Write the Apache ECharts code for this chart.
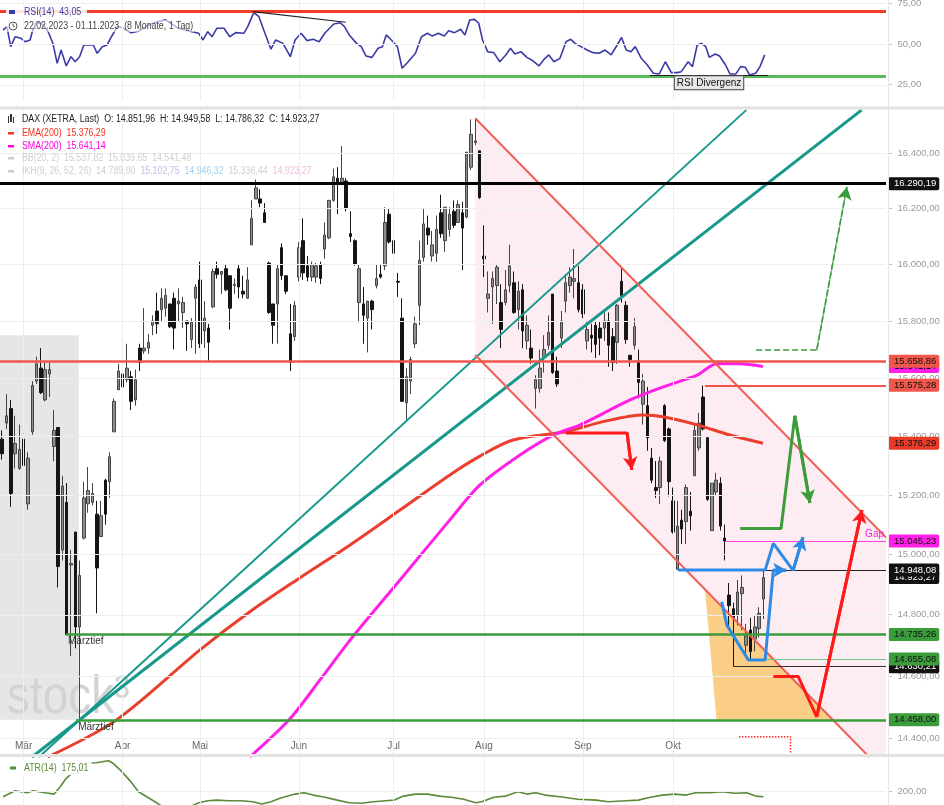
<!DOCTYPE html>
<html><head><meta charset="utf-8">
<script src="https://cdn.jsdelivr.net/npm/echarts@6/dist/echarts.min.js"></script>
<style>html,body{margin:0;padding:0;background:#fff}#c{width:944px;height:805px}</style>
</head><body><div id="c"></div><script>
const FONT = '"Liberation Sans", Arial, sans-serif';

// ---- data ----
const startDate = '2023-02-22';
const holidays = ['2023-04-07', '2023-04-10'];
const monthNames = ['Jan','Feb','Mär','Apr','Mai','Jun','Jul','Aug','Sep','Okt','Nov','Dez'];
const slotCount = 206;          // trading days incl. empty future space
// [open, close, low, high]
const ohlc = [
[15390,15340,15320,15420],[15445,15470,15425,15545],[15495,15205,15160,15525],[15340,15375,15290,15470],[15290,15355,15285,15440],
[15390,15300,15255,15470],[15170,15325,15150,15345],[15415,15575,15405,15590],[15590,15650,15580,15675],[15635,15550,15545,15705],
[15525,15630,15520,15660],[15615,15630,15535,15660],[15365,15420,15315,15490],[15430,14960,14890,15430],[15015,15230,14980,15265],
[15175,14735,14735,15240],[14965,14970,14665,15015],[15075,14760,14690,15075],[14760,14930,14458,14980],[15055,15190,15050,15245],
[15170,15215,15140,15295],[15175,15205,15165,15240],[15135,14955,14805,15180],[15060,15130,15060,15180],[15250,15135,15100,15255],
[15245,15330,15190,15345],[15415,15520,15415,15530],[15560,15625,15560,15650],[15615,15570,15545,15645],[15595,15635,15585,15720],
[15605,15520,15490,15625],[15525,15595,15505,15630],[15705,15655,15625,15720],[15695,15705,15685,15845],[15705,15725,15685,15755],
[15785,15800,15750,15820],[15835,15790,15755,15900],[15840,15880,15800,15915],[15845,15890,15815,15915],[15860,15780,15775,15860],
[15880,15775,15700,15900],[15860,15870,15800,15915],[15830,15865,15775,15885],[15800,15790,15695,15800],[15735,15795,15705,15810],
[15880,15920,15685,15930],[15945,15720,15705,16010],[15765,15810,15705,15870],[15775,15725,15660,15790],[15850,15975,15845,15985],
[15985,15965,15950,16010],[15965,15975,15895,15975],[15985,15910,15905,16000],[15960,15845,15770,15960],[15925,15930,15895,15950],
[15985,15920,15880,16000],[15905,15895,15880,15960],[15880,15945,15880,15990],[16070,16165,16070,16230],[16235,16275,16235,16305],
[16235,16220,16205,16270],[16185,16150,16150,16220],[16005,15830,15825,16010],[15860,15785,15720,15860],[15860,15985,15720,16000],
[16060,15960,15945,16075],[15960,15905,15895,15960],[15755,15655,15625,15860],[15745,15855,15730,15870],[15955,16060,15940,16080],
[16085,15970,15945,16165],[15995,15955,15940,16030],[15955,16000,15940,16010],[15955,15995,15935,16005],[16000,15950,15930,16010],
[16055,16105,16020,16150],[16095,16230,16090,16230],[16230,16315,16225,16345],[16310,16290,16180,16350],[16295,16310,16285,16427],
[16300,16200,16190,16310],[16110,16100,16080,16190],[16085,16000,15995,16090],[15865,15985,15795,16000],[15860,15820,15720,15920],
[15810,15870,15690,15870],[15870,15840,15770,15875],[15925,15950,15915,16000],[15965,15955,15950,16000],[15995,16150,15980,16205],
[16180,16080,16075,16200],[16085,16040,16025,16120],[15940,15937,15885,15970],[15810,15520,15520,15880],[15515,15605,15457,15635],
[15590,15665,15545,15675],[15720,15790,15705,15815],[15855,16015,15785,16085],[16025,16145,16010,16200],[16130,16105,16070,16175],
[16030,16070,16010,16120],[16040,16125,16010,16175],[16185,16110,16095,16250],[16085,16205,16045,16205],[16125,16180,16100,16205],
[16190,16140,16130,16230],[16150,16215,16150,16230],[16185,16130,15980,16225],[16170,16405,16165,16405],[16350,16470,16340,16525],
[16440,16446,16430,16528],[16410,16240,16235,16410],[16030,16020,15955,16140],[15880,15895,15830,15975],[15920,15950,15790,15975],
[15925,15990,15860,16000],[15865,15770,15705,15930],[15865,15910,15855,15980],[15925,15995,15900,16070],[15935,15830,15825,15975],
[15840,15905,15770,15940],[15910,15765,15705,15930],[15730,15785,15700,15820],[15705,15670,15650,15770],[15565,15595,15495,15610],
[15565,15635,15550,15700],[15675,15700,15620,15750],[15715,15760,15700,15820],[15895,15620,15615,15895],[15625,15580,15570,15675],
[15740,15800,15705,15835],[15870,15935,15830,15965],[15925,15955,15900,15990],[15940,15950,15880,16055],[15935,15840,15830,15995],
[15910,15825,15810,15930],[15730,15770,15700,15800],[15750,15740,15690,15790],[15785,15718,15670,15800],[15775,15740,15680,15800],
[15775,15800,15730,15830],[15800,15715,15640,15830],[15745,15655,15625,15775],[15725,15855,15650,15860],[15940,15890,15865,15990],
[15855,15735,15720,15870],[15680,15665,15640,15680],[15715,15780,15700,15810],[15660,15585,15530,15700],[15510,15590,15440,15615],
[15505,15395,15350,15570],[15325,15250,15240,15360],[15225,15215,15190,15315],[15225,15315,15170,15330],[15505,15385,15380,15510],
[15425,15245,15195,15430],[15180,15075,15070,15225],[14950,15095,14948,15180],[15115,15085,15035,15150],[15110,15225,15035,15235],
[15145,15130,15080,15210],[15265,15420,15265,15440],[15360,15445,15350,15480],[15535,15425,15420,15575],[15395,15185,15180,15400],
[15080,15240,15080,15240],[15210,15250,15200,15275],[15240,15095,15080,15260],[15055,15045,14980,15100],[14865,14830,14760,14905],
[14820,14790,14630,14840],[14800,14875,14765,14915],[14870,14890,14750,14930],[14700,14730,14670,14770],[14750,14680,14655,14790],
[14720,14760,14680,14797],[14755,14805,14725,14825],[14852,14923,14786,14950]
];
// [day index, value]
const emaPts = [[10.6,14339],[26.6,14458],[46,14685],[57.6,14810],[69.2,14922],[80.9,15032],[92.5,15149],[104.1,15268],[111.1,15332],[118.8,15387],[131.3,15416],[139.7,15450],[149,15473],[153.7,15467],[161.6,15439],[169.2,15404],[176.9,15376]];
const smaPts = [[57.6,14339],[66.7,14458],[73.9,14587],[80.9,14717],[92.5,14915],[104.1,15116],[111.1,15234],[120.4,15336],[128.1,15404],[134.4,15439],[146,15525],[153.7,15570],[161.6,15611],[166.2,15650],[171.5,15650],[176.9,15641]];
const rsiPts = [[0.2,58.7],[1.1,60.8],[2,48.5],[3,54.6],[4.4,53.6],[5.3,51.5],[6.5,52.6],[7,57.7],[8,63.8],[9.5,62],[10.7,57.7],[11.8,50.5],[12.8,38.2],[13.7,46.4],[14.9,36.6],[16,42.3],[17,39.2],[18,42.3],[19,49.5],[21.2,49.5],[22.1,44.4],[23.3,48.5],[24.4,49.5],[25.4,54.6],[26.8,60.8],[28.2,60],[30,57],[31.7,58],[33.5,61],[35.2,63],[38,65],[40.8,60],[43.6,58],[45.7,56.7],[46.7,52.6],[47.8,57.7],[48.8,54.6],[49.9,59.8],[51.6,59.8],[52.9,54.6],[54.3,57.1],[56.2,56.7],[57.1,60.8],[58.5,69.4],[59.7,66.9],[61.1,56.7],[62.5,46.9],[63.6,52.6],[65.3,50.5],[67,42.3],[68.1,52.6],[69.5,56.7],[70.9,52.2],[72.3,53],[73.7,51.5],[75,56.7],[77.1,62.4],[78.6,63.2],[79.6,60.8],[80.7,55.7],[82.4,50.5],[83.5,48.5],[84.6,42.7],[86,41.9],[87.4,47.5],[88.4,48.5],[89.3,55.7],[90.5,52.6],[91.9,48.5],[93,35.2],[94.4,39.2],[96.1,44.4],[97.5,54.6],[98.9,56.7],[100,55],[101.4,56.7],[102.8,55],[103.8,58.3],[105.2,57.1],[106.6,59.2],[107.6,55.7],[108.7,64.9],[109.8,65.3],[110.8,62.9],[111.7,52.6],[112.9,45.4],[114.3,44.8],[115.7,39.2],[117.1,43.4],[118.2,47.5],[119.2,44],[120.6,45.4],[122,41.9],[123.4,39.8],[124.8,36.6],[126.2,41.3],[127.1,43.4],[128.3,39.2],[129.7,41.3],[131.1,51.5],[132.2,53],[133.2,50.5],[134.6,48.5],[136,46.4],[137.4,44.8],[138.8,44.4],[140.2,46.4],[141.6,43.4],[143,49.5],[144,54.2],[145.1,46.4],[146.2,45.4],[147.2,48.5],[148.6,41.3],[150,37.2],[151.4,32.1],[152.8,31.7],[154.2,39.2],[155.6,32.5],[157,32.5],[157.9,33.1],[159.5,39.2],[160.5,36.2],[161.6,49.5],[162.6,50.5],[163.6,48.5],[164.4,41.9],[165.8,44],[166.8,42.7],[168.2,37.2],[169.2,31.7],[170.6,31.7],[171.7,36.2],[172.8,35.8],[173.8,31],[175.2,32.1],[176.2,36.2],[177.3,43.4]];
const atrPts = [[0.2,175],[3,205],[5.8,195],[7.2,205],[10,195],[12.1,188],[13.5,225],[14.9,267],[16,288],[17.7,292],[19.1,342],[21.9,345],[23.3,350],[24.7,355],[25.8,342],[27.5,308],[29.6,258],[31.7,200],[33.8,172],[36.1,142],[37.3,125],[40,115],[43,118],[45.7,145],[47.8,155],[49.9,158],[52.7,155],[55.5,155],[58.3,150],[60.4,138],[62.5,150],[64.6,167],[68.1,188],[70.2,195],[72.3,183],[75.1,172],[77.9,158],[80.7,145],[83.5,142],[86.3,150],[89.1,155],[91.2,158],[93.3,178],[96.1,188],[98.9,188],[101.7,178],[104.5,172],[107.3,162],[110.1,145],[111.5,150],[114.3,172],[117.1,178],[119.9,200],[122,188],[124.1,195],[126.2,183],[129.7,175],[133.9,162],[138.1,158],[140.9,150],[145.1,155],[147.9,158],[150.7,172],[153.5,183],[156.3,188],[159.1,183],[161.2,195],[164.7,195],[167.5,200],[170.3,192],[173.1,195],[175.2,178],[177,175]];
const priceTicks = [14400,14600,14800,15000,15200,15400,15600,15800,16000,16200,16400];
const rsiTicks = [25, 50, 75];
const atrTicks = [200];
// drawn trend lines / channel / polygons: [day index, price]
const tealLine1 = [[8.57,14339],[173,16559]];
const tealLine2 = [[6.93,14339],[199.8,16559]];
const channelUpper = [[110,16529],[205.5,15057]];
const channelLower = [[110,15681],[201.6,14339]];
const channelPoly = [[110,16529],[206,15050],[206,14278],[110,15681]];
const orangePoly = [[163.4,14884],[166.1,14458],[193.2,14458]];
const arrows = {
  blue1: [[157.2,14948],[177.4,14948],[179.3,15037],[183.9,14947],[186.2,15058]],
  blue2: [[167.3,14843],[168.5,14766],[173.5,14652],[177.4,14652],[179.3,14948],[182.3,14948]],
  redSmall: [[131,15411],[145.3,15411],[146.4,15285]],
  green1: [[171.6,15087],[181.1,15087],[184.3,15470],[187.8,15173]],
  redBig: [[179.3,14598],[185.1,14598],[189.4,14468],[199.9,15149]],
  greenDash: [[175.3,15698],[189.4,15698],[196.4,16279]],
  redDot: [[171.3,14404],[183.3,14404],[183.3,14339]]
};
const grayBox = [[-0.5,15750],[17.8,14458]];

// ---- helpers ----
function tradingDays(start, n, hol) {
  const out = []; const d = new Date(start + 'T00:00:00Z');
  while (out.length < n) {
    const iso = d.toISOString().slice(0, 10); const wd = d.getUTCDay();
    if (wd !== 0 && wd !== 6 && hol.indexOf(iso) < 0) out.push(iso);
    d.setUTCDate(d.getUTCDate() + 1);
  }
  return out;
}
const dates = tradingDays(startDate, slotCount, holidays);
const monthStart = [];
for (let i = 1; i < ohlc.length; i++) if (dates[i].slice(5, 7) !== dates[i - 1].slice(5, 7)) monthStart.push(i);
function fmtDE(v) { let [a, b] = v.toFixed(2).split('.'); a = a.replace(/\B(?=(\d{3})+(?!\d))/g, '.'); return a + ',' + b; }
const XMAX = slotCount - 0.5;
const TAGONLY = XMAX - 0.3;
const CLEAR = 'rgba(0,0,0,0)';
const axisLblStyle = { color: '#9a9a9a', fontSize: 9.5, fontFamily: FONT };

function tag(bg, fg) {
  return { show: true, position: 'end', distance: 2, color: fg, backgroundColor: bg, padding: [2, 3, 1, 6],
    borderRadius: 2, fontSize: 9.5, fontFamily: FONT };
}
function level(value, from, color, width, tagStyle) {
  const first = { coord: [from, value], lineStyle: { color: color, width: width, type: 'solid' } };
  first.label = tagStyle ? Object.assign({ formatter: fmtDE(value) }, tagStyle) : { show: false };
  return [first, { coord: [XMAX, value] }];
}
function textLine(value, from, txt, pos, color) {
  return [{ coord: [from, value], lineStyle: { color: CLEAR, width: 1 },
    label: { show: true, position: pos, formatter: txt, color: color, fontSize: 10, fontFamily: FONT, distance: 2 } },
    { coord: [XMAX, value] }];
}
function gridLine(value) {
  return [{ coord: [-0.5, value], lineStyle: { color: '#eeeeee', width: 1, type: 'solid' },
    label: Object.assign({ show: true, position: 'end', distance: 3, formatter: '-  ' + fmtDE(value) }, axisLblStyle) },
    { coord: [XMAX, value] }];
}
function seg(a, b, color, width) {
  return [{ coord: a, lineStyle: { color: color, width: width, type: 'solid' }, label: { show: false } }, { coord: b }];
}
function arrowSeries(pts, color, width, type, head) {
  const n = pts.length;
  return {
    type: 'line', xAxisIndex: 1, yAxisIndex: 0, data: pts, symbol: 'none', silent: true, z: 6,
    lineStyle: { color: color, width: width, type: type || 'solid' }, clip: true,
    markLine: head ? { silent: true, symbol: ['none', 'arrow'], symbolSize: [11, 13], label: { show: false },
      lineStyle: { color: color, width: width, type: type || 'solid' }, data: [[{ coord: pts[n - 2] }, { coord: pts[n - 1] }]] } : undefined
  };
}
function vLines(xAxisIndex, yAxisIndex) {
  return {
    type: 'line', xAxisIndex: xAxisIndex, yAxisIndex: yAxisIndex, data: [], z: 0, silent: true,
    markLine: { silent: true, symbol: 'none', label: { show: false }, lineStyle: { color: '#eeeeee', width: 1, type: 'solid' },
      data: monthStart.map(i => ({ xAxis: i })) }
  };
}

const chart = echarts.init(document.getElementById('c'));
const legendFont = '10px ' + FONT;

const option = {
  animation: false,
  backgroundColor: '#ffffff',
  grid: [
    { left: 0, top: 110, width: 886, height: 647, outerBoundsMode: 'none' },
    { left: 0, top: 0, width: 886, height: 100, outerBoundsMode: 'none' },
    { left: 0, top: 757, width: 886, height: 48, outerBoundsMode: 'none' }
  ],
  xAxis: [
    { type: 'category', gridIndex: 0, data: dates, boundaryGap: true,
      axisLine: { show: false },
      axisTick: { show: true, inside: true, length: 4, alignWithLabel: true, lineStyle: { color: '#999' },
        interval: (i) => monthStart.indexOf(i) >= 0 },
      axisLabel: { inside: true, margin: 6, color: '#666', fontSize: 10, fontFamily: FONT,
        interval: (i) => monthStart.indexOf(i) >= 0,
        formatter: (v) => monthNames[parseInt(v.slice(5, 7), 10) - 1] },
      splitLine: { show: false } },
    { type: 'value', gridIndex: 0, min: -0.5, max: XMAX, show: false },
    { type: 'value', gridIndex: 1, min: -0.5, max: XMAX, show: false },
    { type: 'value', gridIndex: 2, min: -0.5, max: XMAX, show: false }
  ],
  yAxis: [
    { type: 'log', gridIndex: 0, min: 14339, max: 16559.5, show: false },
    { type: 'value', gridIndex: 1, min: 15.66, max: 77.2, show: false },
    { type: 'value', gridIndex: 2, min: 133.5, max: 373.5, show: false }
  ],
  series: [
    // price grid + month lines + gray box
    {
      type: 'line', xAxisIndex: 1, yAxisIndex: 0, data: [], z: 0, silent: true,
      markLine: { silent: true, symbol: 'none', data: priceTicks.map(gridLine).concat(monthStart.map(i => [
          { coord: [i, 14339], lineStyle: { color: '#eeeeee', width: 1, type: 'solid' }, label: { show: false } },
          { coord: [i, 16559.5] }])) },
      markArea: { silent: true, itemStyle: { color: '#e6e6e6' },
        data: [[{ coord: grayBox[0] }, { coord: grayBox[1] }]] }
    },
    vLines(2, 1), vLines(3, 2),
    // channel fill
    {
      type: 'custom', xAxisIndex: 1, yAxisIndex: 0, data: [[0, 15000]], clip: true, silent: true, z: 1,
      renderItem: (params, api) => ({ type: 'polygon', shape: { points: channelPoly.map(p => api.coord(p)) },
        style: { fill: 'rgba(248,200,215,0.33)' } })
    },
    {
      type: 'custom', xAxisIndex: 1, yAxisIndex: 0, data: [[0, 15000]], clip: true, silent: true, z: 1,
      renderItem: (params, api) => ({ type: 'polygon', shape: { points: orangePoly.map(p => api.coord(p)) },
        style: { fill: 'rgba(250,190,95,0.75)' } })
    },
    // candles
    {
      type: 'candlestick', xAxisIndex: 0, yAxisIndex: 0, data: ohlc, barWidth: 3, z: 3, silent: true,
      itemStyle: { color: '#8e8e8e', borderColor: '#444444', color0: '#151515', borderColor0: '#151515', borderWidth: 1 }
    },
    // EMA / SMA
    { type: 'line', xAxisIndex: 1, yAxisIndex: 0, data: emaPts, smooth: 0.3, symbol: 'none', z: 4, silent: true,
      lineStyle: { color: '#ea3f2c', width: 3 } },
    { type: 'line', xAxisIndex: 1, yAxisIndex: 0, data: smaPts, smooth: 0.3, symbol: 'none', z: 4, silent: true,
      lineStyle: { color: '#ff1fe6', width: 3 } },
    // trend lines & channel
    {
      type: 'line', xAxisIndex: 1, yAxisIndex: 0, data: [], z: 5, silent: true,
      markLine: { silent: true, symbol: 'none', data: [
        seg(tealLine1[0], tealLine1[1], '#16988a', 2),
        seg(tealLine2[0], tealLine2[1], '#16988a', 3),
        seg(channelUpper[0], channelUpper[1], '#f06058', 2),
        seg(channelLower[0], channelLower[1], '#f06058', 2)
      ] }
    },
    // horizontal levels with right-hand tags
    {
      type: 'line', xAxisIndex: 1, yAxisIndex: 0, data: [], z: 7, silent: true,
      markLine: { silent: true, symbol: 'none', data: [
        level(16290.19, -0.5, '#000000', 3, tag('#111111', '#ffffff')),
        level(15641.14, TAGONLY, CLEAR, 1, tag('#ff1fe6', '#000000')),
        level(15658.86, -0.5, '#f0564a', 2.5, tag('#f0564a', '#111111')),
        level(15575.28, 163.4, '#f0564a', 2, tag('#f0564a', '#111111')),
        level(15376.29, TAGONLY, CLEAR, 1, tag('#e83a26', '#111111')),
        level(15045.23, 168, '#ff3ee8', 1, tag('#ff1fe6', '#111111')),
        textLine(15045.23, 168, 'Gap', 'insideEndTop', '#ff1fe6'),
        level(14923.27, TAGONLY, CLEAR, 1, tag('#111111', '#ffffff')),
        level(14948.08, 157.2, '#222222', 1, tag('#111111', '#ffffff')),
        level(14735.26, 14.85, '#3a9c3a', 2.5, tag('#3a9c3a', '#111111')),
        textLine(14735.26, 14.85, 'Märztief', 'insideStartBottom', '#333'),
        level(14630.21, 170, '#333333', 1, tag('#111111', '#ffffff')),
        level(14655.08, 174, '#7cc47c', 1, tag('#3a9c3a', '#111111')),
        level(14458.00, 17.2, '#3a9c3a', 2.5, tag('#3a9c3a', '#111111')),
        textLine(14458.00, 17.2, 'Märztief', 'insideStartBottom', '#333')
      ] }
    },
    arrowSeries(arrows.blue1, '#2d8be6', 3, 'solid', true),
    arrowSeries(arrows.blue2, '#2d8be6', 3, 'solid', true),
    arrowSeries(arrows.redSmall, '#ff1a1a', 3, 'solid', true),
    arrowSeries(arrows.green1, '#3c9d3c', 3, 'solid', true),
    arrowSeries(arrows.redBig, '#ff1a1a', 3, 'solid', true),
    arrowSeries(arrows.greenDash, '#3c9d3c', 1.5, 'dashed', true),
    arrowSeries(arrows.redDot, '#ff2a2a', 1.5, 'dotted', false),
    // RSI
    {
      type: 'line', xAxisIndex: 2, yAxisIndex: 1, data: rsiPts, symbol: 'none', silent: true, z: 3,
      lineStyle: { color: '#3b3ba8', width: 1.6 },
      markLine: { silent: true, symbol: 'none', data: rsiTicks.map(gridLine).concat([
        [{ coord: [-0.5, 70], lineStyle: { color: '#ef3b28', width: 3, type: 'solid' }, label: { show: false } }, { coord: [XMAX, 70] }],
        [{ coord: [-0.5, 30], lineStyle: { color: '#5cb85c', width: 3, type: 'solid' }, label: { show: false } }, { coord: [XMAX, 30] }],
        [{ coord: [58.3, 70], lineStyle: { color: '#222', width: 1.2, type: 'solid' }, label: { show: false } }, { coord: [79.9, 63.5] }],
        [{ coord: [150.6, 30.9], lineStyle: { color: '#222', width: 1.2, type: 'solid' },
           label: { show: true, position: 'insideMiddleBottom', formatter: 'RSI Divergenz', color: '#111', fontSize: 10,
             fontFamily: FONT, backgroundColor: '#e6e6e6', borderColor: '#444', borderWidth: 1, padding: [2, 2, 1, 2], distance: 1 } },
         { coord: [178.1, 30.9] }]
      ]) }
    },
    // ATR
    { type: 'line', xAxisIndex: 3, yAxisIndex: 2, data: atrPts, symbol: 'none', silent: true, z: 3,
      lineStyle: { color: '#5b8a3a', width: 1.6 },
      markLine: { silent: true, symbol: 'none', data: atrTicks.map(gridLine) } }
  ],
  graphic: [
    { type: 'rect', z: 100, shape: { x: 0, y: 106.5, width: 944, height: 3 }, style: { fill: '#e2e2e2' } },
    { type: 'rect', z: 100, shape: { x: 0, y: 754, width: 944, height: 3 }, style: { fill: '#e2e2e2' } },
    { type: 'rect', z: 99, shape: { x: 888, y: 0, width: 1, height: 805 }, style: { fill: '#e8e8e8' } },
    // watermark
    { type: 'text', z: 2, x: 7, y: 725, scaleX: 0.85, style: { text: 'stock³', fill: '#d3d3d3', font: '54px "Liberation Sans", sans-serif', verticalAlign: 'bottom' } },
    // main legend
    { type: 'rect', z: 50, shape: { x: 8, y: 116, width: 1, height: 7 }, style: { fill: '#333' } },
    { type: 'rect', z: 50, shape: { x: 10, y: 114, width: 2, height: 8 }, style: { fill: '#333' } },
    { type: 'rect', z: 50, shape: { x: 13, y: 117, width: 1, height: 6 }, style: { fill: '#333' } },
    { type: 'text', z: 50, x: 22, y: 119, scaleX: 0.88, style: { text: 'DAX (XETRA, Last)  O: 14.851,96  H: 14.949,58  L: 14.786,32  C: 14.923,27', fill: '#222', font: legendFont, verticalAlign: 'middle' } },
    { type: 'rect', z: 50, shape: { x: 8, y: 132, width: 6, height: 2.5 }, style: { fill: '#ee3322' } },
    { type: 'text', z: 50, x: 22, y: 133, scaleX: 0.88, style: { text: 'EMA(200)  15.376,29', fill: '#ee3322', font: legendFont, verticalAlign: 'middle' } },
    { type: 'rect', z: 50, shape: { x: 8, y: 145, width: 6, height: 2.5 }, style: { fill: '#ff00dd' } },
    { type: 'text', z: 50, x: 22, y: 146, scaleX: 0.88, style: { text: 'SMA(200)  15.641,14', fill: '#ff00dd', font: legendFont, verticalAlign: 'middle' } },
    { type: 'rect', z: 50, shape: { x: 8, y: 157, width: 6, height: 2.5 }, style: { fill: '#cccccc' } },
    { type: 'text', z: 50, x: 22, y: 158, scaleX: 0.88, style: { text: 'BB(20, 2)  15.537,82  15.039,65  14.541,48', fill: '#cfcfcf', font: legendFont, verticalAlign: 'middle' } },
    { type: 'rect', z: 50, shape: { x: 8, y: 170, width: 6, height: 2.5 }, style: { fill: '#cccccc' } },
    { type: 'text', z: 50, x: 22, y: 171, scaleX: 0.88, style: { text: '{a|IKH(9, 26, 52, 26)  14.789,90}  {b|15.102,75}  {c|14.946,32}  {a|15.336,44}  {d|14.923,27}',
        font: legendFont, verticalAlign: 'middle',
        rich: { a: { fill: '#cfcfcf', font: legendFont }, b: { fill: '#c8b8ea', font: legendFont }, c: { fill: '#9fd0ec', font: legendFont }, d: { fill: '#eec2dc', font: legendFont } } } },
    // RSI legend
    { type: 'text', z: 50, x: 6, y: 12, scaleX: 0.88, style: { text: '       RSI(14)  43,05  ', fill: '#3b3ba8', font: legendFont, verticalAlign: 'middle', backgroundColor: 'rgba(255,255,255,0.85)', padding: [1, 1] } },
    { type: 'rect', z: 51, shape: { x: 9, y: 10, width: 6, height: 4 }, style: { fill: '#3b3ba8' } },
    { type: 'text', z: 50, x: 6, y: 26, scaleX: 0.88, style: { text: '       22.02.2023 - 01.11.2023  (8 Monate, 1 Tag)', fill: '#444', font: legendFont, verticalAlign: 'middle', backgroundColor: 'rgba(255,255,255,0.6)', padding: [1, 1] } },
    { type: 'circle', z: 51, shape: { cx: 13, cy: 26, r: 4 }, style: { fill: 'none', stroke: '#555', lineWidth: 1 } },
    { type: 'polyline', z: 51, shape: { points: [[13, 23.5], [13, 26], [15, 27]] }, style: { fill: 'none', stroke: '#555', lineWidth: 1 } },
    // ATR legend
    { type: 'text', z: 50, x: 6, y: 768, scaleX: 0.88, style: { text: '       ATR(14)  175,01 ', fill: '#5b8a3a', font: legendFont, verticalAlign: 'middle', backgroundColor: 'rgba(255,255,255,0.9)', padding: [2, 1] } },
    { type: 'rect', z: 51, shape: { x: 10, y: 766.5, width: 6, height: 3 }, style: { fill: '#5b8a3a' } }
  ]
};
chart.setOption(option);
</script></body></html>
